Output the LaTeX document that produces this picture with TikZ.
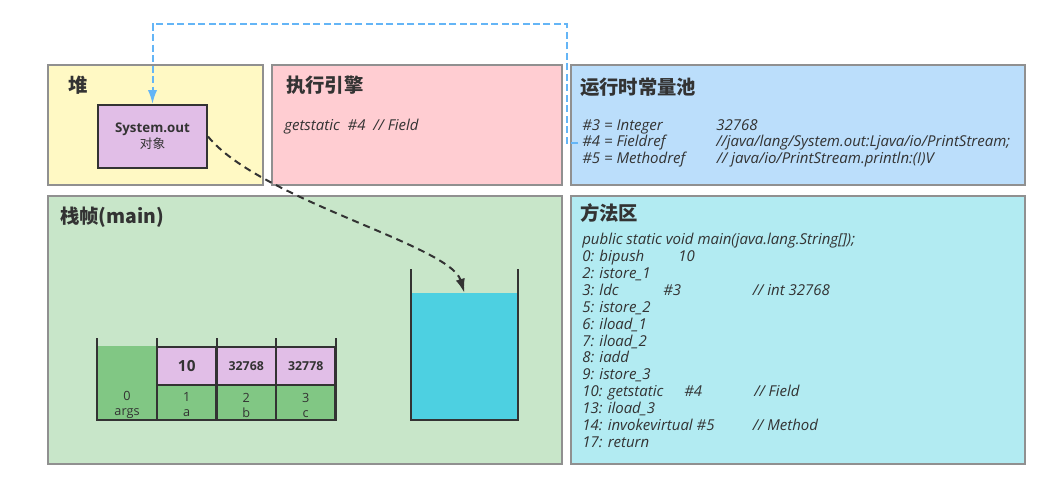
\documentclass[tikz,border=0pt]{standalone}
\usepackage{fontspec}
\setmainfont{Open Sans}
\newfontfamily\cjk{Noto Sans CJK SC}
\usepackage{tikz}
\usetikzlibrary{arrows.meta}
\definecolor{ink}{HTML}{333333}
\definecolor{panelline}{HTML}{909090}
\definecolor{heapbg}{HTML}{FFF9C4}
\definecolor{enginebg}{HTML}{FFCDD2}
\definecolor{poolbg}{HTML}{BBDEFB}
\definecolor{framebg}{HTML}{C8E6C9}
\definecolor{methodbg}{HTML}{B2EBF2}
\definecolor{objbg}{HTML}{E1BEE7}
\definecolor{slotbg}{HTML}{81C784}
\definecolor{waterbg}{HTML}{4DD0E1}
\definecolor{refblue}{HTML}{64B5F6}
\newcommand\codecol[2]{\makebox[#1][l]{#2}}

\begin{document}
\begin{tikzpicture}[x=0.75pt, y=-0.75pt, >={Latex[length=10.5pt,width=7pt]},
	panel/.style={draw=panelline, line width=1.5pt, inner sep=0pt},
	paneltitle/.style={anchor=west, inner sep=0pt, text=ink, font=\cjk\bfseries\fontsize{14.5pt}{16pt}\selectfont},
	code/.style={anchor=north west, inner sep=0pt, align=left, text=ink},
	valcell/.style={draw=ink, line width=1.5pt, fill=objbg, text=ink, minimum width=44.6pt, minimum height=28.7pt, inner sep=0pt, font=\bfseries\fontsize{9.25pt}{10pt}\selectfont},
	idxcell/.style={line width=1.5pt, fill=slotbg, text=ink, minimum width=44.6pt, minimum height=26.25pt, inner sep=0pt, align=center, font=\fontsize{9.5pt}{11.25pt}\selectfont},
	wall/.style={draw=ink, line width=1.5pt},
	refline/.style={draw=refblue, line width=1.5pt, dash pattern=on 5.25pt off 2.6pt},
	flowline/.style={draw=ink, line width=1.5pt, dash pattern=on 5.25pt off 3.75pt}]
	\useasboundingbox (0,0) rectangle (1050,489);

	% the five areas
	\node[panel, fill=heapbg, minimum width=161.25pt, minimum height=90pt] (heap) at (155.5,125) {};
	\node[panel, fill=enginebg, minimum width=217.5pt, minimum height=90pt] (engine) at (417,125) {};
	\node[panel, fill=poolbg, minimum width=340.5pt, minimum height=90pt] (pool) at (798,125) {};
	\node[panel, fill=framebg, minimum width=385.5pt, minimum height=201pt] (frame) at (305,330) {};
	\node[panel, fill=methodbg, minimum width=340.5pt, minimum height=201pt] (method) at (798,330) {};

	\node[paneltitle] (heaptitle) at (68,85) {堆};
	\node[paneltitle] (enginetitle) at (286,85) {执行引擎};
	\node[paneltitle] (pooltitle) at (580,87) {运行时常量池};
	\node[paneltitle] (frametitle) at (60,217) {栈帧(main)};
	\node[paneltitle] (methodtitle) at (580,213) {方法区};

	% heap object
	\node[draw=ink, line width=1.5pt, fill=objbg, text=ink, minimum width=81.75pt, minimum height=47.25pt, inner sep=0pt, align=center] (sysout) at (152.5,136.5)
		{{\bfseries\fontsize{10pt}{12.75pt}\selectfont System.out}\\{\cjk\fontsize{9.5pt}{12pt}\selectfont 对象}};

	% code texts
	\node[code, font=\itshape\fontsize{11.25pt}{13pt}\selectfont] (enginecode) at (284,118.5) {getstatic\ \ \#4\ \ // Field};
	\node[code, font=\itshape\fontsize{11.25pt}{12.4pt}\selectfont] (poolcode) at (582,119) {%
		\codecol{100.5pt}{\#3 = Integer}32768\\
		\codecol{100.5pt}{\#4 = Fieldref}//java/lang/System.out:Ljava/io/PrintStream;\\
		\codecol{101pt}{\#5 = Methodref}// java/io/PrintStream.println:(I)V};
	\node[code, font=\itshape\fontsize{11.25pt}{12.73pt}\selectfont] (methodcode) at (582,232.5) {%
		public static void main(java.lang.String[]);\\
		\codecol{72pt}{0: bipush}10\\
		2: istore\_1\\
		\codecol{60.75pt}{3: ldc}\codecol{67.25pt}{\#3}// int 32768\\
		5: istore\_2\\
		6: iload\_1\\
		7: iload\_2\\
		8: iadd\\
		9: istore\_3\\
		\codecol{76.5pt}{10: getstatic}\codecol{52.5pt}{\#4}// Field\\
		13: iload\_3\\
		\codecol{128pt}{14: invokevirtual \#5}// Method\\
		17: return};

	% local variable table
	\node[idxcell, minimum height=55.5pt] (arg0) at (127,383) {};
	\node[idxcell, fill=none] (idx0) at (127,405) {0\\args};
	\node[valcell, font=\bfseries\fontsize{11.5pt}{13pt}\selectfont] (val1) at (186.75,365.85) {10};
	\node[valcell] (val2) at (246.25,365.85) {32768};
	\node[valcell] (val3) at (305.75,365.85) {32778};
	\node[idxcell, minimum height=0pt, draw=ink] (cell1) at (186.75,402.5) {\rule{0pt}{26.25pt}};
	\node[idxcell, minimum height=0pt, draw=ink] (cell2) at (246.25,402.5) {\rule{0pt}{26.25pt}};
	\node[idxcell, minimum height=0pt, draw=ink] (cell3) at (305.75,402.5) {\rule{0pt}{26.25pt}};
	\node[idxcell, fill=none] (idx1) at (186.75,405) {1\\a};
	\node[idxcell, fill=none] (idx2) at (246.25,405) {2\\b};
	\node[idxcell, fill=none] (idx3) at (305.75,405) {3\\c};
	\draw[wall] (97,338) -- (97,420) -- (335.5,420) -- (335.5,338);
	\draw[wall] (157,338) -- (157,420);
	\draw[wall] (216.5,338) -- (216.5,347);
	\draw[wall] (276,338) -- (276,347);

	% operand stack
	\node[fill=waterbg, minimum width=80.5pt, minimum height=95.25pt, inner sep=0pt] (opstack) at (464.35,356.5) {};
	\draw[wall] (410.7,269) -- (410.7,420) -- (518,420) -- (518,269);

	% references
	\coordinate (fieldref) at (578,143);
	\coordinate (bend) at (152.5,24);
	\draw[refline, ->] (fieldref) -- (567,143) |- (bend) -- (sysout);
	\draw[flowline, ->] (sysout.east) .. controls (260,200) and (450,245) .. (opstack.north);
\end{tikzpicture}
\end{document}
